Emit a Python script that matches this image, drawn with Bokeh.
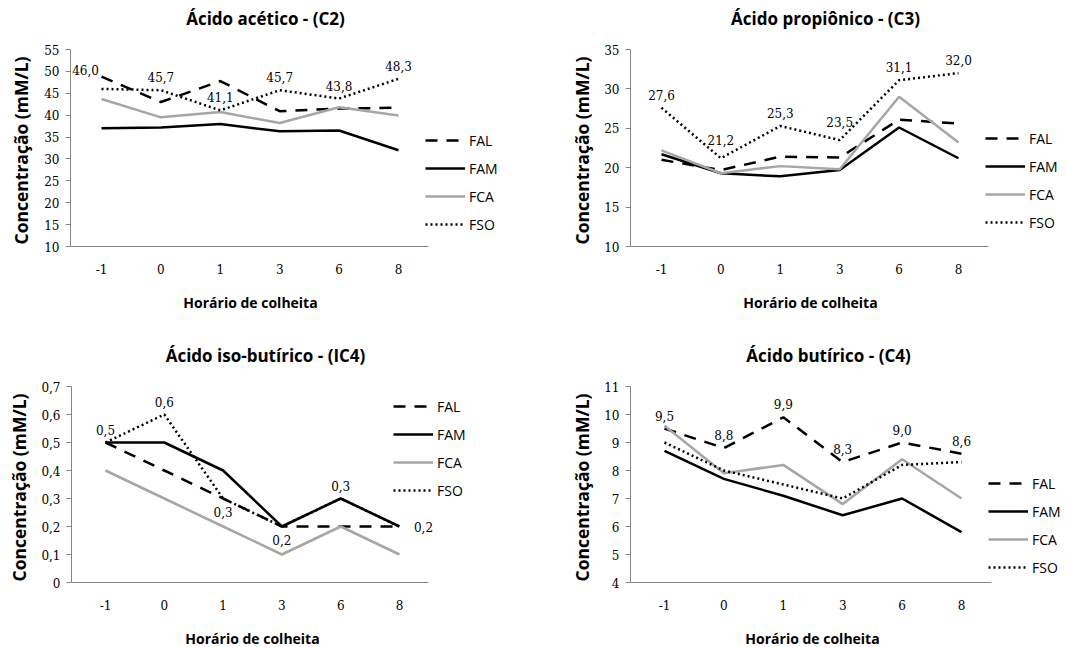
import math
from bokeh.plotting import figure
from bokeh.layouts import gridplot
from bokeh.models import (Label, LabelSet, Legend, LegendItem, FixedTicker,
                          Range1d, ColumnDataSource)
from bokeh.core.properties import value
from bokeh.embed import file_html
from bokeh.resources import INLINE

# ---------------- data ----------------
hours = ["-1", "0", "1", "3", "6", "8"]
series = ["FAL", "FAM", "FCA", "FSO"]

c2_fal = [48.8, 43.0, 47.8, 40.9, 41.5, 41.7]
c2_fam = [37.0, 37.2, 38.0, 36.3, 36.5, 32.0]
c2_fca = [43.7, 39.5, 40.7, 38.2, 41.8, 39.9]
c2_fso = [46.0, 45.7, 41.1, 45.7, 43.8, 48.3]
c2_ticks = [10, 15, 20, 25, 30, 35, 40, 45, 50, 55]
c2_tick_labels = ["10", "15", "20", "25", "30", "35", "40", "45", "50", "55"]

c3_fal = [21.0, 19.7, 21.4, 21.3, 26.1, 25.6]
c3_fam = [21.7, 19.3, 18.9, 19.7, 25.1, 21.2]
c3_fca = [22.2, 19.3, 20.2, 19.8, 29.0, 23.2]
c3_fso = [27.6, 21.2, 25.3, 23.5, 31.1, 32.0]
c3_ticks = [10, 15, 20, 25, 30, 35]
c3_tick_labels = ["10", "15", "20", "25", "30", "35"]

ic4_fal = [0.5, 0.4, 0.3, 0.2, 0.2, 0.2]
ic4_fam = [0.5, 0.5, 0.4, 0.2, 0.3, 0.2]
ic4_fca = [0.4, 0.3, 0.2, 0.1, 0.2, 0.1]
ic4_fso = [0.5, 0.6, 0.3, 0.2, 0.3, 0.2]
ic4_ticks = [0, 0.1, 0.2, 0.3, 0.4, 0.5, 0.6, 0.7]
ic4_tick_labels = ["0", "0,1", "0,2", "0,3", "0,4", "0,5", "0,6", "0,7"]

c4_fal = [9.5, 8.8, 9.9, 8.3, 9.0, 8.6]
c4_fam = [8.7, 7.7, 7.1, 6.4, 7.0, 5.8]
c4_fca = [9.6, 7.9, 8.2, 6.8, 8.4, 7.0]
c4_fso = [9.0, 8.0, 7.5, 7.0, 8.2, 8.3]
c4_ticks = [4, 5, 6, 7, 8, 9, 10, 11]
c4_tick_labels = ["4", "5", "6", "7", "8", "9", "10", "11"]

# ---------------- style ----------------
SANS = "Open Sans"
SERIF = "DejaVu Serif"
AXIS_GRAY = "#868686"
styles = {
    "FAL": dict(line_color="black", line_dash="12 9", line_width=2.5),
    "FAM": dict(line_color="black", line_width=2.5),
    "FCA": dict(line_color="#a6a6a6", line_width=2.5),
    "FSO": dict(line_color="black", line_dash="2 3", line_width=2.5),
}
offsets = {
    "above": (0, 13),
    "high": (0, 18),
    "aboveleft": (-16, 19),
    "below": (0, -13),
    "right": (24, 0),
}


def fmt(v):
    return f"{v:.1f}".replace(".", ",")


def panel(title, data, label_vals, placements, yr, ticks, tick_labels,
          W, H, xbox, ybox, title_c, ytitle_c, xtitle_c, legend_at):
    # xbox = pixel x of (y axis, first category, last category, x-axis end)
    # ybox = pixel y of (top of value axis, bottom of value axis)
    ax_x, first, last, ax_end = xbox
    T, B = ybox
    n = len(hours)
    xpos = list(range(n))
    u = (last - first) / (n - 1)
    y0, y1 = yr
    ys = (y1 - y0) / (B - T)
    x_axis_at = (ax_x - first) / u
    p = figure(width=W, height=H,
               x_range=Range1d(-first / u, (W - first) / u),
               y_range=Range1d(y0 - (H - B) * ys, y1 + T * ys),
               output_backend="svg", toolbar_location=None, min_border=0)
    p.outline_line_color = None
    p.xgrid.visible = False
    p.ygrid.visible = False
    p.background_fill_color = "white"
    p.border_fill_color = "white"

    items = []
    for name, vals in zip(series, data):
        r = p.line(xpos, vals, **styles[name])
        items.append(LegendItem(label=name, renderers=[r]))

    # data labels
    for place, (dx, dy) in offsets.items():
        idx = [i for i, pl in enumerate(placements) if pl == place]
        if not idx:
            continue
        src = ColumnDataSource(dict(
            x=[xpos[i] for i in idx],
            y=[label_vals[i] for i in idx],
            t=[fmt(label_vals[i]) for i in idx]))
        p.add_layout(LabelSet(x="x", y="y", text="t", source=src,
                              x_offset=dx, y_offset=dy,
                              text_align="center", text_baseline="middle",
                              text_font=value(SERIF),
                              text_font_size=value("12px"),
                              text_color="black"))

    # axes (fixed inside the frame)
    for ax in (p.xaxis[0], p.yaxis[0]):
        ax.axis_line_color = AXIS_GRAY
        ax.axis_line_width = 1
        ax.minor_tick_line_color = None
        ax.major_label_text_font = SERIF
        ax.major_label_text_font_size = "12px"
        ax.major_label_text_color = "black"
    xa = p.xaxis[0]
    xa.fixed_location = y0
    xa.bounds = (x_axis_at, (ax_end - first) / u)
    xa.ticker = FixedTicker(ticks=xpos)
    xa.major_label_overrides = dict(zip(xpos, hours))
    xa.major_tick_line_color = None
    xa.major_tick_out = 0
    xa.major_tick_in = 0
    xa.major_label_standoff = 17

    ya = p.yaxis[0]
    ya.fixed_location = x_axis_at
    ya.bounds = (y0, y1)
    ya.ticker = FixedTicker(ticks=ticks)
    ya.major_label_overrides = dict(zip(ticks, tick_labels))
    ya.major_tick_line_color = AXIS_GRAY
    ya.major_tick_out = 5
    ya.major_tick_in = 0
    ya.major_label_standoff = 6

    leg = Legend(items=items, location=(legend_at[0], H - legend_at[1]),
                 glyph_width=40, glyph_height=20, label_height=20, spacing=8,
                 label_standoff=4, padding=0, margin=0,
                 border_line_color=None, background_fill_alpha=0,
                 label_text_font=SANS, label_text_font_size="14px",
                 label_text_color="black")
    p.add_layout(leg)

    def text(t, c, size, angle=0.0):
        p.add_layout(Label(x=c[0], y=H - c[1], x_units="screen",
                           y_units="screen", text=t, angle=angle,
                           text_align="center", text_baseline="middle",
                           text_font=SANS, text_font_style="bold",
                           text_font_size=size, text_color="black"))

    text(title, title_c, "17px")
    text("Concentração (mM/L)", ytitle_c, "17.5px", math.pi / 2)
    text("Horário de colheita", xtitle_c, "14px")
    return p


p1 = panel("Ácido acético - (C2)", [c2_fal, c2_fam, c2_fca, c2_fso], c2_fso,
           ["aboveleft", "above", "above", "above", "above", "above"],
           (10, 55), c2_ticks, c2_tick_labels, 533, 320,
           (70, 101, 398, 428), (49, 246),
           (265, 18), (20, 150), (250, 302), (425, 234))
p2 = panel("Ácido propiônico - (C3)", [c3_fal, c3_fam, c3_fca, c3_fso], c3_fso,
           ["above", "high", "above", "high", "above", "above"],
           (10, 35), c3_ticks, c3_tick_labels, 533, 320,
           (97, 128, 425, 455), (49, 246),
           (292, 18), (48, 150), (277, 302), (452, 232))
p3 = panel("Ácido iso-butírico - (IC4)", [ic4_fal, ic4_fam, ic4_fca, ic4_fso], ic4_fso,
           ["above", "above", "below", "below", "above", "right"],
           (0, 0.7), ic4_ticks, ic4_tick_labels, 533, 327,
           (71, 105, 399, 428), (66, 262),
           (265, 35), (18, 167), (252, 318), (393, 180))
p4 = panel("Ácido butírico - (C4)", [c4_fal, c4_fam, c4_fca, c4_fso], c4_fal,
           ["above", "above", "above", "above", "above", "above"],
           (4, 11), c4_ticks, c4_tick_labels, 533, 327,
           (97, 131, 428, 458), (66, 262),
           (295, 35), (48, 167), (279, 318), (455, 257))

grid = gridplot([[p1, p2], [p3, p4]], toolbar_location=None)

with open("out.html", "w") as f:
    f.write(file_html(grid, INLINE))
